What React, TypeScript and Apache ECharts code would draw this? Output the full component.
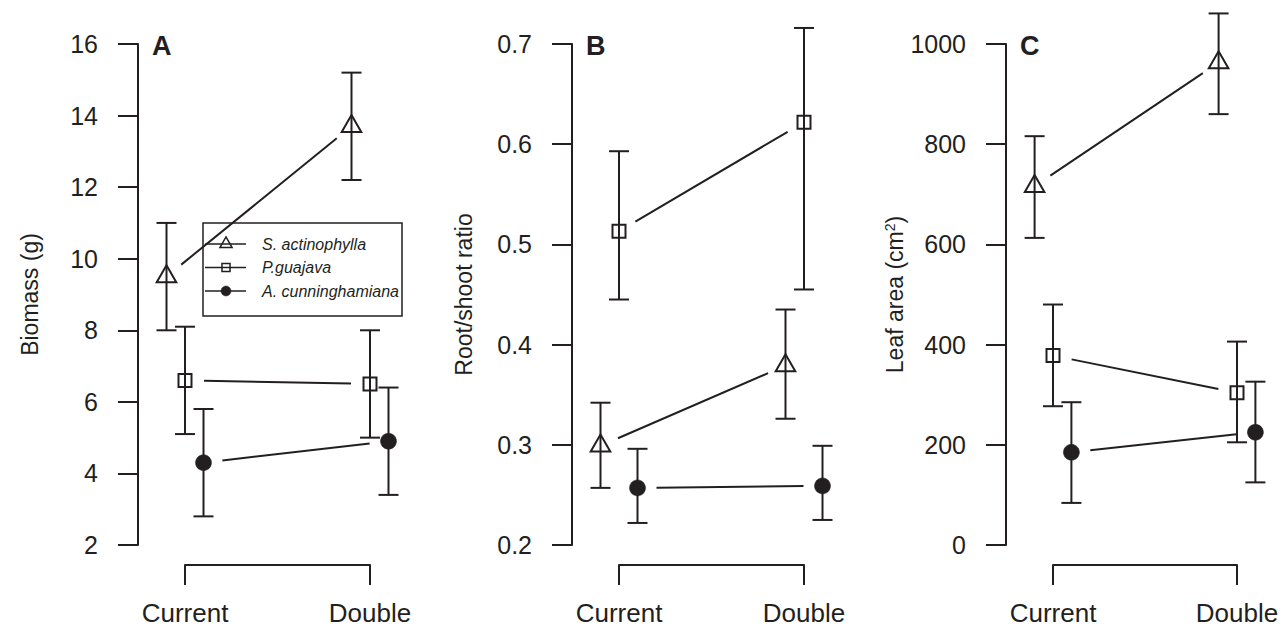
import React, { useEffect, useRef } from "react";
import * as echarts from "echarts";

// ---------- data ----------
const treatments = ["Current", "Double"];
const treatmentX = [1, 2];
const species = ["S. actinophylla", "P.guajava", "A. cunninghamiana"];
const speciesOffset = [-0.1, 0, 0.1];
const speciesSymbol = ["triangle", "square", "circle"];

// Panel A: Biomass (g) — [species][treatment]
const biomassMean = [[9.5, 13.7], [6.6, 6.5], [4.3, 4.9]];
const biomassLow = [[8.0, 12.2], [5.1, 5.0], [2.8, 3.4]];
const biomassHigh = [[11.0, 15.2], [8.1, 8.0], [5.8, 6.4]];

// Panel B: Root/shoot ratio
const ratioMean = [[0.299, 0.379], [0.513, 0.622], [0.257, 0.259]];
const ratioLow = [[0.257, 0.326], [0.445, 0.455], [0.222, 0.225]];
const ratioHigh = [[0.342, 0.435], [0.593, 0.716], [0.296, 0.299]];

// Panel C: Leaf area (cm2)
const areaMean = [[716, 963], [378, 304], [185, 225]];
const areaLow = [[613, 860], [277, 205], [84, 125]];
const areaHigh = [[816, 1061], [480, 406], [285, 326]];

const panelLetters = ["A", "B", "C"];
const yTitles = ["Biomass (g)", "Root/shoot ratio", "Leaf area (cm{sup|2})"];
const yMin = [2, 0.2, 0];
const yMax = [16, 0.7, 1000];
const yInterval = [2, 0.1, 200];
const yDecimals = [0, 1, 0];

// ---------- styles ----------
const INK = "#231f20";
const FONT = "'Liberation Sans', Arial, Helvetica, sans-serif";
const LW = 2;

const gridLefts = [185, 619, 1053];
const gridWidths = [185, 185, 184];
const GRID_TOP = 44;
const GRID_BOTTOM = 96;

function drawSymbol(kind: string, x: number, y: number, scale: number, lw: number) {
  if (kind === "triangle") {
    const r = 11.3 * scale;
    const xc = 0.866 * r;
    return {
      type: "polygon",
      shape: { points: [[x, y - r], [x + xc, y + r / 2], [x - xc, y + r / 2]] },
      style: { fill: "none", stroke: INK, lineWidth: lw },
    };
  }
  if (kind === "square") {
    const h = 6.5 * scale;
    return {
      type: "rect",
      shape: { x: x - h, y: y - h, width: 2 * h, height: 2 * h },
      style: { fill: "none", stroke: INK, lineWidth: lw },
    };
  }
  return {
    type: "circle",
    shape: { cx: x, cy: y, r: 8 * scale },
    style: { fill: INK, stroke: INK, lineWidth: 0.5 },
  };
}

function makeSeries(panel: number, s: number, means: number[][], lows: number[][], highs: number[][]) {
  const data = treatmentX.map((tx, t) => [tx + speciesOffset[s], means[s][t], lows[s][t], highs[s][t]]);
  return {
    type: "custom",
    name: species[s],
    xAxisIndex: panel,
    yAxisIndex: panel,
    clip: false,
    silent: true,
    data,
    renderItem: (params: any, api: any) => {
      const i = params.dataIndex;
      const p = api.coord([api.value(0), api.value(1)]);
      const lo = api.coord([api.value(0), api.value(2)]);
      const hi = api.coord([api.value(0), api.value(3)]);
      const ls = { stroke: INK, lineWidth: LW };
      const cap = 10;
      const children: any[] = [
        { type: "line", shape: { x1: p[0], y1: lo[1], x2: p[0], y2: hi[1] }, style: ls },
        { type: "line", shape: { x1: p[0] - cap, y1: lo[1], x2: p[0] + cap, y2: lo[1] }, style: ls },
        { type: "line", shape: { x1: p[0] - cap, y1: hi[1], x2: p[0] + cap, y2: hi[1] }, style: ls },
      ];
      if (i === 0) {
        const n = data[1];
        const q = api.coord([n[0], n[1]]);
        const dx = q[0] - p[0];
        const dy = q[1] - p[1];
        const L = Math.hypot(dx, dy);
        const g = 19;
        children.push({
          type: "line",
          shape: { x1: p[0] + (dx * g) / L, y1: p[1] + (dy * g) / L, x2: q[0] - (dx * g) / L, y2: q[1] - (dy * g) / L },
          style: ls,
        });
      }
      children.push(drawSymbol(speciesSymbol[s], p[0], p[1], 1, LW));
      return { type: "group", children };
    },
  };
}

const panels = [
  { mean: biomassMean, low: biomassLow, high: biomassHigh },
  { mean: ratioMean, low: ratioLow, high: ratioHigh },
  { mean: areaMean, low: areaLow, high: areaHigh },
];

function buildOption() {
  const grid = gridLefts.map((l, k) => ({ left: l, width: gridWidths[k], top: GRID_TOP, bottom: GRID_BOTTOM }));
  const xAxis = gridLefts.map((_, k) => ({
    type: "value",
    gridIndex: k,
    min: 1,
    max: 2,
    interval: 1,
    position: "bottom",
    offset: 20,
    axisLine: { show: true, onZero: false, lineStyle: { color: INK, width: LW } },
    axisTick: { show: true, length: 20, lineStyle: { color: INK, width: LW } },
    axisLabel: {
      margin: 35,
      color: INK,
      fontSize: 26,
      fontFamily: FONT,
      formatter: (v: number) => treatments[treatmentX.indexOf(v)] ?? "",
    },
    splitLine: { show: false },
  }));
  const yAxis = gridLefts.map((_, k) => ({
    type: "value",
    gridIndex: k,
    min: yMin[k],
    max: yMax[k],
    interval: yInterval[k],
    position: "left",
    offset: 47,
    name: yTitles[k],
    nameLocation: "middle",
    nameGap: 97,
    nameTextStyle: {
      color: INK,
      fontSize: 23,
      fontFamily: FONT,
      rich: { sup: { fontSize: 14, verticalAlign: "top", color: INK, fontFamily: FONT, padding: [0, 0, 10, 0] } },
    },
    axisLine: { show: true, onZero: false, lineStyle: { color: INK, width: LW } },
    axisTick: { show: true, length: 20, lineStyle: { color: INK, width: LW } },
    axisLabel: {
      margin: 40,
      color: INK,
      fontSize: 25,
      fontFamily: FONT,
      formatter: (v: number) => v.toFixed(yDecimals[k]),
    },
    splitLine: { show: false },
  }));

  const series: any[] = [];
  panels.forEach((pn, k) => {
    species.forEach((_, s) => series.push(makeSeries(k, s, pn.mean, pn.low, pn.high)));
  });

  // legend (panel A) and panel letters
  const graphic: any[] = [];
  const lgX = 203, lgY = 223, lgW = 199, lgH = 93;
  graphic.push({ type: "rect", shape: { x: lgX, y: lgY, width: lgW, height: lgH }, style: { fill: "none", stroke: INK, lineWidth: 1.5 } });
  const rowY = [244, 267.5, 291];
  species.forEach((name, s) => {
    graphic.push({ type: "line", shape: { x1: lgX + 2, y1: rowY[s], x2: lgX + 43, y2: rowY[s] }, style: { stroke: INK, lineWidth: 1.5 } });
    graphic.push(drawSymbol(speciesSymbol[s], lgX + 23, rowY[s], 0.62, 1.5));
    graphic.push({
      type: "text",
      x: 262,
      y: rowY[s],
      style: { text: name, fill: INK, font: `italic 16px ${FONT}`, verticalAlign: "middle", align: "left" },
    });
  });
  panelLetters.forEach((L, k) => {
    graphic.push({
      type: "text",
      x: gridLefts[k] - 33,
      y: 46,
      style: { text: L, fill: INK, font: `bold 27px ${FONT}`, verticalAlign: "middle", align: "left" },
    });
  });

  return {
    animation: false,
    backgroundColor: "#ffffff",
    textStyle: { fontFamily: FONT, color: INK },
    grid,
    xAxis,
    yAxis,
    series,
    graphic,
  };
}

export default function App() {
  const ref = useRef<HTMLDivElement>(null);
  useEffect(() => {
    const chart = echarts.init(ref.current!, undefined, { renderer: "svg" });
    chart.setOption(buildOption() as any);
    return () => chart.dispose();
  }, []);
  return (
    <div
      ref={ref}
      style={{ position: "absolute", left: 0, top: 0, width: 1288, height: 641, background: "#fff" }}
    />
  );
}
